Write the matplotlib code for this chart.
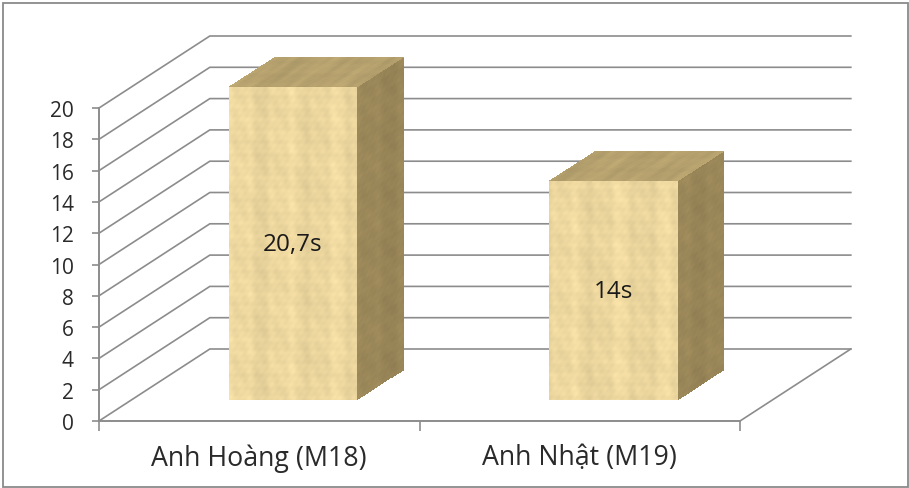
import matplotlib
matplotlib.use('Agg')
import matplotlib.pyplot as plt
import numpy as np
from matplotlib.patches import Rectangle

plt.rcParams['font.family'] = ['Open Sans', 'DejaVu Sans']

# Dữ liệu
categories = ['Anh Hoàng (M18)', 'Anh Nhật (M19)']
times = [20.7, 14]
time_labels = ['20,7s', '14s']
y_ticks = [0, 2, 4, 6, 8, 10, 12, 14, 16, 18, 20]
y_max = 20

W, H = 909, 489
GRID = '#8c8c8c'
TEXT = '#2a2a2a'

# hướng chiều sâu của khung 3D, tính theo đơn vị trục
DEPTH_X = 111 / 321
DEPTH_Y = 72 / 15.65
BAR_WIDTH = 0.4
BAR_SHIFT = 0.005
BAR_FRONT = 0.29
BAR_BACK = 0.71

fig = plt.figure(figsize=(W / 100, H / 100), dpi=100)
fig.patch.set_facecolor('white')
fig.add_artist(Rectangle((3 / W, 1 - 487.5 / H), 905 / W, 483.5 / H,
                         transform=fig.transFigure, fill=False,
                         edgecolor='#8a8a8a', linewidth=1.3))

ax = fig.add_axes([99 / W, 1 - 422 / H, 641 / W, 313 / H])
ax.set_xlim(0, 2)
ax.set_ylim(0, y_max)
ax.patch.set_alpha(0)
ax.set_autoscale_on(False)


def point(x, v, d):
    return x + d * DEPTH_X, v + d * DEPTH_Y


def papyrus(rows, cols, base, phase=0.0):
    # vân giấy cói: sọc dọc rộng, sọc ngang mảnh và các vệt chéo
    yy, xx = np.mgrid[0:rows, 0:cols]
    xx = xx + phase
    yy = yy + phase * 0.6
    streaks = (1.1 * np.sin(xx * 0.13 + 0.4) + 0.9 * np.sin(xx * 0.29 + 1.9)
               + 0.5 * np.sin(xx * 0.61 + 1.3))
    fibres = 0.5 * np.sin(yy * 0.43 + 0.7) + 0.4 * np.sin(yy * 0.97)
    blotches = (0.7 * np.sin(xx * 0.41 + yy * 0.23)
                + 0.4 * np.sin(xx * 0.97 - yy * 0.67 + 2.1)
                + 0.6 * np.sin(xx * 0.07 + yy * 0.11 + 0.8))
    tex = streaks + fibres + blotches
    rgb = np.array(base)[None, None, :] * (1 + 0.016 * tex[:, :, None])
    return np.clip(rgb, 0, 1)


def face(p0, pu, pv, base, phase=0.0):
    # mặt hình bình hành có gốc p0, hai cạnh tới pu và pv
    cols = int(max(abs(pu[0] - p0[0]) * 321, 20))
    rows = int(max(abs(pv[1] - p0[1]) * 15.65, 20))
    s, t = np.meshgrid(np.linspace(0, 1, cols + 1), np.linspace(0, 1, rows + 1))
    xs = p0[0] + s * (pu[0] - p0[0]) + t * (pv[0] - p0[0])
    ys = p0[1] + s * (pu[1] - p0[1]) + t * (pv[1] - p0[1])
    ax.pcolormesh(xs, ys, papyrus(rows, cols, base, phase), shading='flat',
                  linewidth=0, antialiased=False, clip_on=False, zorder=3)


# các đường lưới trên tường trái và tường sau
for v in y_ticks:
    bx, by = point(0, v, 1)
    ex, ey = point(2, v, 1)
    ax.plot([0, bx, ex], [v, by, ey], color=GRID, linewidth=1.2,
            clip_on=False, zorder=1, solid_joinstyle='miter')
ex, ey = point(2, 0, 1)
ax.plot([2, ex], [0, ey], color=GRID, linewidth=1.2, clip_on=False, zorder=1)

# các cột, chiều cao bị chặn ở giới hạn trục
for i, (value, label) in enumerate(zip(times, time_labels)):
    top = min(value, y_max)
    x0 = i + 0.5 + BAR_SHIFT - BAR_WIDTH / 2
    x1 = i + 0.5 + BAR_SHIFT + BAR_WIDTH / 2
    face(point(x0, 0, BAR_FRONT), point(x1, 0, BAR_FRONT), point(x0, top, BAR_FRONT),
         (0.925, 0.84, 0.62), i * 37.0)
    face(point(x1, 0, BAR_FRONT), point(x1, 0, BAR_BACK), point(x1, top, BAR_FRONT),
         (0.60, 0.525, 0.345), i * 11.0)
    face(point(x0, top, BAR_FRONT), point(x1, top, BAR_FRONT), point(x0, top, BAR_BACK),
         (0.71, 0.63, 0.43), i * 23.0)
    cx, cy = point(i + 0.5 + BAR_SHIFT, top / 2, BAR_FRONT)
    ax.text(cx, cy, label, ha='center', va='center', fontsize=17.5,
            color='#1a1a1a', zorder=4)

# trục
for side in ['top', 'right']:
    ax.spines[side].set_visible(False)
for side in ['left', 'bottom']:
    ax.spines[side].set_color(GRID)
    ax.spines[side].set_linewidth(1.4)
    ax.spines[side].set_zorder(2)

ax.set_yticks(y_ticks)
ax.set_yticklabels([str(v) for v in y_ticks], fontsize=15, color=TEXT)
ax.tick_params(axis='y', length=5, width=1.2, color=GRID, pad=13)

ax.set_xticks([0, 1, 2])
ax.set_xticklabels([])
ax.tick_params(axis='x', which='major', length=7, width=1.2, color=GRID)
ax.set_xticks([0.5, 1.5], minor=True)
ax.set_xticklabels(categories, minor=True, fontsize=19.3, color=TEXT)
ax.tick_params(axis='x', which='minor', length=0, pad=16)

fig.savefig('out.png', dpi=100)
